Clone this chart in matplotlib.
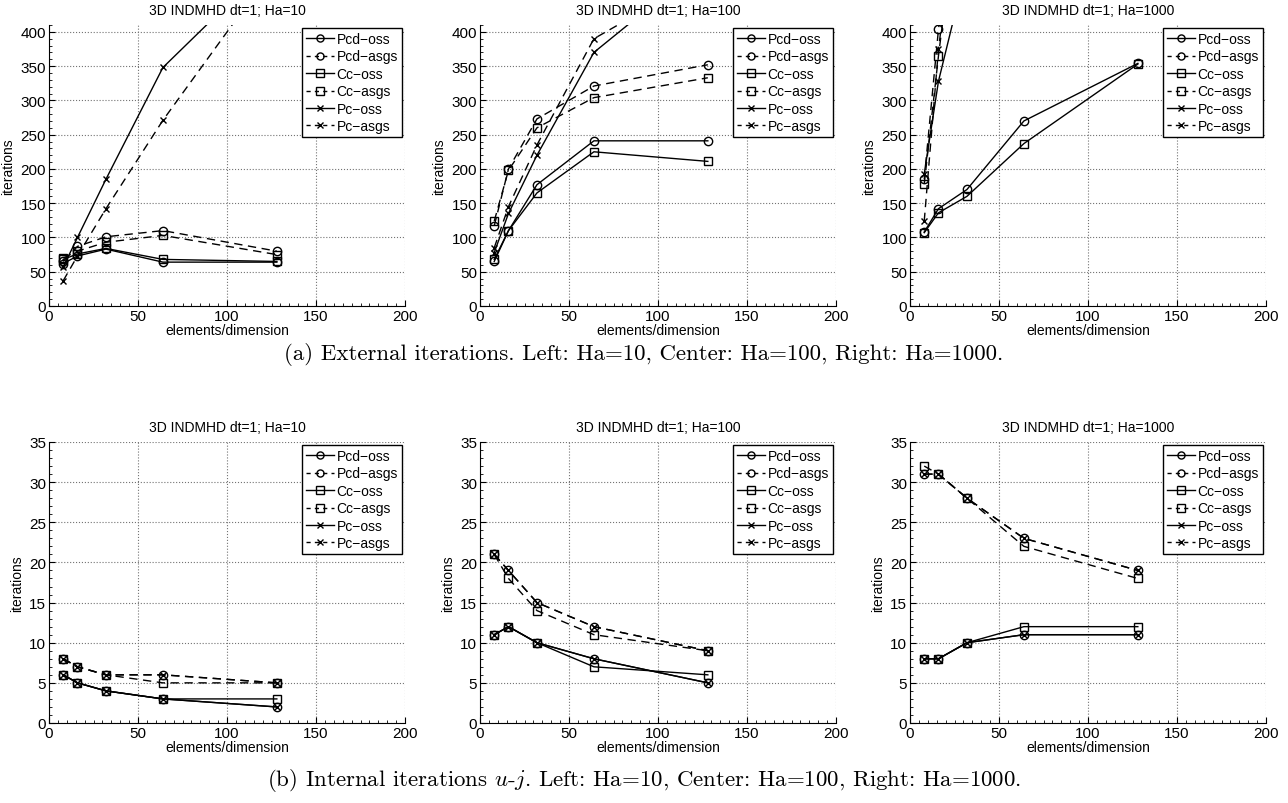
import matplotlib
matplotlib.use("Agg")
import matplotlib.pyplot as plt
from matplotlib.ticker import MultipleLocator
import numpy as np

nan = np.nan

# elements per dimension
x = [8, 16, 32, 64, 128]

series_names = ["Pcd\u2212oss", "Pcd\u2212asgs", "Cc\u2212oss", "Cc\u2212asgs", "Pc\u2212oss", "Pc\u2212asgs"]
titles = ["3D INDMHD dt=1; Ha=10", "3D INDMHD dt=1; Ha=100", "3D INDMHD dt=1; Ha=1000"]

# (a) external iterations, Ha=10 / 100 / 1000
ext_ha10 = {
    "Pcd\u2212oss": [62, 73, 83, 64, 64],
    "Pcd\u2212asgs": [65, 87, 101, 110, 80],
    "Cc\u2212oss": [68, 76, 84, 68, 65],
    "Cc\u2212asgs": [70, 80, 93, 103, 75],
    "Pc\u2212oss": [57, 100, 185, 348, 510],
    "Pc\u2212asgs": [37, 73, 142, 271, 500],
}
ext_ha100 = {
    "Pcd\u2212oss": [65, 110, 177, 241, 241],
    "Pcd\u2212asgs": [117, 200, 273, 321, 352],
    "Cc\u2212oss": [68, 110, 165, 225, 211],
    "Cc\u2212asgs": [124, 198, 260, 304, 333],
    "Pc\u2212oss": [78, 135, 220, 370, 505],
    "Pc\u2212asgs": [85, 145, 235, 390, 485],
}
ext_ha1000 = {
    "Pcd\u2212oss": [108, 142, 170, 270, 354],
    "Pcd\u2212asgs": [185, 404, 700, nan, nan],
    "Cc\u2212oss": [107, 136, 160, 237, 353],
    "Cc\u2212asgs": [178, 365, 700, nan, nan],
    "Pc\u2212oss": [193, 328, 498, nan, nan],
    "Pc\u2212asgs": [124, 375, 700, nan, nan],
}

# (b) internal iterations u-j, Ha=10 / 100 / 1000
int_ha10 = {
    "Pcd\u2212oss": [6, 5, 4, 3, 2],
    "Pcd\u2212asgs": [8, 7, 6, 6, 5],
    "Cc\u2212oss": [6, 5, 4, 3, 3],
    "Cc\u2212asgs": [8, 7, 6, 5, 5],
    "Pc\u2212oss": [6, 5, 4, 3, 2],
    "Pc\u2212asgs": [8, 7, 6, 6, 5],
}
int_ha100 = {
    "Pcd\u2212oss": [11, 12, 10, 8, 5],
    "Pcd\u2212asgs": [21, 19, 15, 12, 9],
    "Cc\u2212oss": [11, 12, 10, 7, 6],
    "Cc\u2212asgs": [21, 18, 14, 11, 9],
    "Pc\u2212oss": [11, 12, 10, 8, 5],
    "Pc\u2212asgs": [21, 19, 15, 12, 9],
}
int_ha1000 = {
    "Pcd\u2212oss": [8, 8, 10, 11, 11],
    "Pcd\u2212asgs": [31, 31, 28, 23, 19],
    "Cc\u2212oss": [8, 8, 10, 12, 12],
    "Cc\u2212asgs": [32, 31, 28, 22, 18],
    "Pc\u2212oss": [8, 8, 10, 11, 11],
    "Pc\u2212asgs": [31, 31, 28, 23, 19],
}

styles = {
    "Pcd\u2212oss": ("-", "o"),
    "Pcd\u2212asgs": ("--", "o"),
    "Cc\u2212oss": ("-", "s"),
    "Cc\u2212asgs": ("--", "s"),
    "Pc\u2212oss": ("-", "x"),
    "Pc\u2212asgs": ("--", "x"),
}


def draw_panel(ax, data, title, ymax, ystep, yminor):
    for name in series_names:
        ls, mk = styles[name]
        line, = ax.plot(x, data[name], color="black", ls=ls, marker=mk, lw=1.0,
                        markersize=6 if mk != "x" else 5, mfc="none", mew=1.0,
                        label=name, clip_on=True)
        if ls == "--":
            line.set_dashes((6, 4))
    ax.set_xlim(0, 200)
    ax.set_ylim(0, ymax)
    ax.xaxis.set_major_locator(MultipleLocator(50))
    ax.xaxis.set_minor_locator(MultipleLocator(5))
    ax.yaxis.set_major_locator(MultipleLocator(ystep))
    ax.yaxis.set_minor_locator(MultipleLocator(yminor))
    ax.tick_params(which="both", direction="in", top=False, right=False, labelsize=11)
    ax.tick_params(which="major", length=4, width=0.8, pad=2)
    ax.tick_params(which="minor", length=2, width=0.6)
    ax.spines["top"].set_visible(False)
    ax.spines["right"].set_visible(False)
    ax.grid(True, which="major", ls=":", color="0.45", lw=0.8)
    ax.set_axisbelow(True)
    ax.set_title(title, fontsize=10, pad=8)
    ax.set_xlabel("elements/dimension", fontsize=10, labelpad=0)
    ax.set_ylabel("iterations", fontsize=10, labelpad=4)
    leg = ax.legend(loc="upper right", fontsize=10, frameon=True, fancybox=False,
                    edgecolor="black", framealpha=1, borderaxespad=0.2,
                    handlelength=2.0, handletextpad=0.2, labelspacing=0.25,
                    borderpad=0.3, markerscale=0.85)
    leg.get_frame().set_linewidth(1.0)
    for h in leg.get_lines():
        if h.get_linestyle() == "--":
            h.set_dashes((3.0, 3.0))


def main():
    plt.rcParams["font.family"] = ["Liberation Sans", "DejaVu Sans"]
    plt.rcParams["mathtext.fontset"] = "cm"

    W, H = 1288, 804
    fig = plt.figure(figsize=(W / 100, H / 100), dpi=100)

    lefts = [49, 480, 910]
    width = 356
    top_row = (26, 307)
    bot_row = (443, 724)

    ext = [ext_ha10, ext_ha100, ext_ha1000]
    inn = [int_ha10, int_ha100, int_ha1000]

    for i in range(3):
        ax = fig.add_axes([lefts[i] / W, 1 - top_row[1] / H, width / W,
                           (top_row[1] - top_row[0]) / H])
        draw_panel(ax, ext[i], titles[i], 410, 50, 10)
        ax2 = fig.add_axes([lefts[i] / W, 1 - bot_row[1] / H, width / W,
                            (bot_row[1] - bot_row[0]) / H])
        draw_panel(ax2, inn[i], titles[i], 35, 5, 1)

    fig.text(0.5, 1 - 354 / H,
             "(a) External iterations. Left: Ha=10, Center: Ha=100, Right: Ha=1000.",
             ha="center", va="center", fontsize=16.5, family="cmr10")
    fig.text(0.5, 1 - 781 / H,
             "(b) Internal iterations $u$-$j$. Left: Ha=10, Center: Ha=100, Right: Ha=1000.",
             ha="center", va="center", fontsize=16.5, family="cmr10")

    fig.savefig("out.png", dpi=100)


if __name__ == "__main__":
    main()
